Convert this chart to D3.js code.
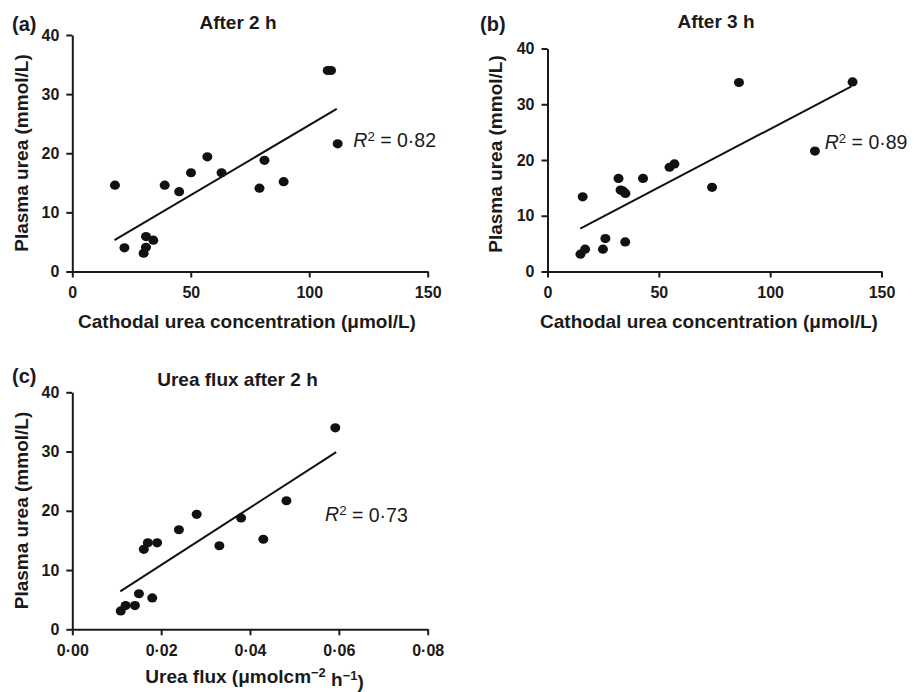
<!DOCTYPE html>
<html>
<head>
<meta charset="utf-8">
<script src="https://cdn.jsdelivr.net/npm/d3@7"></script>
<style>
  body { margin: 0; background: #fff; }
  svg text { font-family: "Liberation Sans", Arial, sans-serif; fill: #1a1a1a; }
</style>
</head>
<body>
<div id="chart"></div>
<script>
// (a) after 2 h: cathodal urea (umol/L) vs plasma urea (mmol/L)
const concA = [18.0, 22.0, 30.1, 31.1, 31.1, 34.2, 39.0, 45.1, 50.1, 57.0, 63.0, 79.0, 81.1, 89.2, 107.8, 109.2, 112.0];
const plasmaA = [14.6, 4.0, 3.1, 4.1, 5.9, 5.3, 14.6, 13.5, 16.7, 19.4, 16.7, 14.1, 18.8, 15.2, 34.0, 34.0, 21.6];
const fitA = [[17.8, 5.3], [111.6, 27.5]];

// (b) after 3 h
const concB = [15.8, 14.8, 16.9, 24.9, 26.0, 31.9, 32.8, 34.0, 35.0, 34.9, 42.9, 54.8, 57.0, 73.9, 86.0, 120.1, 137.0];
const plasmaB = [13.4, 3.1, 4.0, 4.0, 5.9, 16.7, 14.6, 14.4, 14.0, 5.3, 16.7, 18.7, 19.3, 15.1, 33.9, 21.6, 34.0];
const fitB = [[14.7, 7.7], [136.5, 33.2]];

// (c) urea flux after 2 h (umol cm-2 h-1)
const fluxC = [0.0109, 0.0120, 0.0141, 0.0150, 0.0180, 0.0161, 0.0170, 0.0191, 0.0240, 0.0280, 0.0331, 0.0380, 0.0430, 0.0482, 0.0592];
const plasmaC = [3.1, 4.0, 4.0, 6.0, 5.3, 13.5, 14.6, 14.6, 16.8, 19.4, 14.1, 18.8, 15.2, 21.7, 34.0];
const fitC = [[0.0108, 6.4], [0.0594, 29.9]];

const r2Labels = ["0·82", "0·89", "0·73"];
const plasmaTicks = [0, 10, 20, 30, 40];
const concTicks = [0, 50, 100, 150];
const fluxTicks = [0, 0.02, 0.04, 0.06, 0.08];

const width = 914, height = 692;
const svg = d3.select("#chart").append("svg")
    .attr("width", width)
    .attr("height", height);

function drawPanel(cfg) {
    const x = d3.scaleLinear().domain(cfg.xDomain).range(cfg.xRange);
    const y = d3.scaleLinear().domain([0, 40]).range(cfg.yRange);
    const g = svg.append("g");

    const xAxis = g.append("g")
        .attr("transform", `translate(0,${cfg.yRange[0]})`)
        .call(d3.axisBottom(x).tickValues(cfg.xTicks).tickFormat(cfg.fmt)
            .tickSize(6).tickSizeOuter(0).tickPadding(9));
    const yAxis = g.append("g")
        .attr("transform", `translate(${cfg.xRange[0]},0)`)
        .call(d3.axisLeft(y).tickValues(plasmaTicks)
            .tickSize(6).tickSizeOuter(0).tickPadding(7));

    [xAxis, yAxis].forEach(ax => {
        ax.selectAll("path, line").attr("stroke", "#1a1a1a").attr("stroke-width", 2);
        ax.selectAll("text")
            .style("font-size", "16px")
            .style("font-weight", "bold")
            .attr("fill", "#1a1a1a");
    });

    g.append("line")
        .attr("x1", x(cfg.fit[0][0])).attr("y1", y(cfg.fit[0][1]))
        .attr("x2", x(cfg.fit[1][0])).attr("y2", y(cfg.fit[1][1]))
        .attr("stroke", "#111")
        .attr("stroke-width", 2);

    g.selectAll(".dot")
        .data(cfg.xs.map((v, i) => [v, cfg.ys[i]]))
        .enter().append("ellipse")
        .attr("class", "dot")
        .attr("cx", d => x(d[0]))
        .attr("cy", d => y(d[1]))
        .attr("rx", 5)
        .attr("ry", 4.6)
        .attr("fill", "#111");

    // panel letter and title
    g.append("text")
        .attr("x", cfg.letterPos[0]).attr("y", cfg.letterPos[1])
        .style("font-size", "20px").style("font-weight", "bold")
        .text(cfg.letter);
    g.append("text")
        .attr("x", cfg.titlePos[0]).attr("y", cfg.titlePos[1])
        .attr("text-anchor", "middle")
        .style("font-size", "19px").style("font-weight", "bold")
        .text(cfg.title);

    // x axis title
    const xt = g.append("text")
        .attr("x", cfg.xTitlePos[0]).attr("y", cfg.xTitlePos[1])
        .attr("text-anchor", "middle")
        .style("font-size", "19px").style("font-weight", "bold");
    cfg.xTitle(xt);

    // y axis title
    g.append("text")
        .attr("transform", `translate(${cfg.yTitlePos[0]},${cfg.yTitlePos[1]}) rotate(-90)`)
        .attr("text-anchor", "middle")
        .style("font-size", "19px").style("font-weight", "bold")
        .text("Plasma urea (mmol/L)");

    // R squared
    const rt = g.append("text")
        .attr("x", x(cfg.r2Pos[0])).attr("y", y(cfg.r2Pos[1]))
        .style("font-size", "19.5px");
    rt.append("tspan").style("font-style", "italic").text("R");
    rt.append("tspan").attr("dy", "-0.45em").style("font-size", "0.68em").text("2");
    rt.append("tspan").attr("dy", "0.31em").text(" = " + cfg.r2);
}

const concTitle = t => t.text("Cathodal urea concentration (μmol/L)");
const fmtDot = d => d3.format(".2f")(d).replace(".", "·");

drawPanel({
    xs: concA, ys: plasmaA, fit: fitA, r2: r2Labels[0],
    xDomain: [0, 150], xTicks: concTicks, fmt: d3.format("d"),
    xRange: [72.3, 427.7], yRange: [271.5, 35],
    letter: "(a)", letterPos: [12, 31],
    title: "After 2 h", titlePos: [238, 29],
    xTitle: concTitle, xTitlePos: [247, 328],
    yTitlePos: [28, 153],
    r2Pos: [118.6, 21.1]
});

drawPanel({
    xs: concB, ys: plasmaB, fit: fitB, r2: r2Labels[1],
    xDomain: [0, 150], xTicks: concTicks, fmt: d3.format("d"),
    xRange: [547.5, 881.5], yRange: [271.5, 48.5],
    letter: "(b)", letterPos: [480, 31],
    title: "After 3 h", titlePos: [716, 28],
    xTitle: concTitle, xTitlePos: [709, 328],
    yTitlePos: [501.5, 154],
    r2Pos: [124.5, 22.0]
});

drawPanel({
    xs: fluxC, ys: plasmaC, fit: fitC, r2: r2Labels[2],
    xDomain: [0, 0.08], xTicks: fluxTicks, fmt: fmtDot,
    xRange: [72.3, 427.7], yRange: [629.3, 392.3],
    letter: "(c)", letterPos: [12, 383],
    title: "Urea flux after 2 h", titlePos: [237.5, 386],
    xTitle: t => {
        t.append("tspan").text("Urea flux (μmolcm");
        t.append("tspan").attr("dy", "-0.45em").style("font-size", "0.68em").text("−2");
        t.append("tspan").attr("dy", "0.45em").text(" h");
        t.append("tspan").attr("dy", "-0.45em").style("font-size", "0.68em").text("−1");
        t.append("tspan").attr("dy", "0.45em").text(")");
    },
    xTitlePos: [254.5, 683],
    yTitlePos: [28, 510.5],
    r2Pos: [0.0569, 18.2]
});
</script>
</body>
</html>
